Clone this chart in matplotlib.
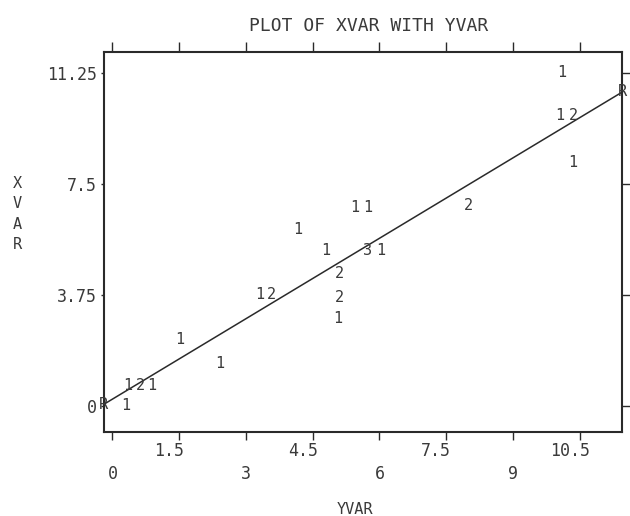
import matplotlib
matplotlib.use('Agg')
import matplotlib.pyplot as plt
from matplotlib.transforms import ScaledTranslation

# ---- data ----
yvar = [0.30, 0.35, 0.62, 0.89, 1.52, 2.42, 3.32, 3.58, 4.17, 4.80, 5.74,
        6.03, 5.45, 5.74, 5.09, 5.09, 5.07, 7.99, 10.10, 10.06, 10.35, 10.35]
xvar = [0.00, 0.68, 0.68, 0.68, 2.23, 1.45, 3.75, 3.75, 5.95, 5.24, 5.24,
        5.24, 6.72, 6.72, 4.49, 3.68, 2.97, 6.79, 11.28, 9.83, 9.83, 8.24]
counts = ['1', '1', '2', '1', '1', '1', '1', '2', '1', '1', '3',
          '1', '1', '1', '2', '2', '1', '2', '1', '1', '2', '1']

fit_x = [-0.20, 11.47]
fit_y = [0.05, 10.62]

x_major = [0, 3, 6, 9]
x_major_labels = ['0', '3', '6', '9']
x_minor = [1.5, 4.5, 7.5, 10.5]
x_minor_labels = ['1.5', '4.5', '7.5', '10.5']
y_ticks = [0, 3.75, 7.5, 11.25]
y_tick_labels = ['0', '3.75', '7.5', '11.25']

title = 'PLOT OF XVAR WITH YVAR'
xlabel = 'YVAR'
ylabel = 'XVAR'

# ---- style ----
FONT = 'DejaVu Sans Mono'
TXT = '#3a3a3a'
LN = '#2a2a2a'
plt.rcParams['font.family'] = [FONT, 'DejaVu Sans']

W, H = 630, 516
fig = plt.figure(figsize=(W / 100, H / 100), dpi=100)
fig.patch.set_facecolor('white')
ax = fig.add_axes([104 / W, 1 - 432 / H, (622 - 104) / W, (432 - 52) / H])
ax.set_xlim(-0.19, 11.45)
ax.set_ylim(-0.88, 11.96)

for s in ax.spines.values():
    s.set_linewidth(1.5)
    s.set_color(LN)

# regression line
ax.plot(fit_x, fit_y, color=LN, lw=1.1, solid_capstyle='round', clip_on=False)
for fx, fy in zip(fit_x, fit_y):
    ax.text(fx, fy, 'R', ha='center', va='center', fontsize=11,
            color=TXT, clip_on=False)

# count symbols
for x, y, c in zip(yvar, xvar, counts):
    ax.text(x, y, c, ha='center', va='center', fontsize=11, color=TXT)

# x ticks: staggered labels
ax.set_xticks(x_major)
ax.set_xticklabels(x_major_labels)
ax.set_xticks(x_minor, minor=True)
ax.set_xticklabels(x_minor_labels, minor=True)
ax.tick_params(axis='x', which='both', direction='out', length=5.8,
               width=1, color=LN, labelsize=12, labelcolor=TXT,
               top=False, bottom=True)
ax.tick_params(axis='x', which='major', pad=18)
ax.tick_params(axis='x', which='minor', pad=1.5)
off = ScaledTranslation(-10 / 100, 0, fig.dpi_scale_trans)
for t in ax.xaxis.get_minor_ticks():
    t.label1.set_transform(t.label1.get_transform() + off)

# y ticks
ax.set_yticks(y_ticks)
ax.set_yticklabels(y_tick_labels)
ax.tick_params(axis='y', direction='out', length=2.2, width=1, color=LN,
               labelsize=12, labelcolor=TXT, pad=3, left=True, right=False)

# top / right tick marks (no labels)
sec_x = ax.secondary_xaxis('top')
sec_x.set_xticks(x_major + x_minor)
sec_x.set_xticklabels([])
sec_x.tick_params(direction='out', length=7.2, width=1, color=LN)
sec_x.spines['top'].set_visible(False)
sec_y = ax.secondary_yaxis('right')
sec_y.set_yticks(y_ticks)
sec_y.set_yticklabels([])
sec_y.tick_params(direction='out', length=5.8, width=1, color=LN)
sec_y.spines['right'].set_visible(False)

# titles / labels
fig.text(369 / W, 1 - 26 / H, title, ha='center', va='center',
         fontsize=13, color=TXT)
fig.text(17 / W, 1 - 214 / H, '\n'.join(ylabel), ha='center', va='center',
         fontsize=11, color=TXT, linespacing=1.45)
fig.text(355 / W, 1 - 509 / H, xlabel, ha='center', va='center',
         fontsize=11, color=TXT)

fig.savefig('out.png', dpi=100, facecolor='white')
